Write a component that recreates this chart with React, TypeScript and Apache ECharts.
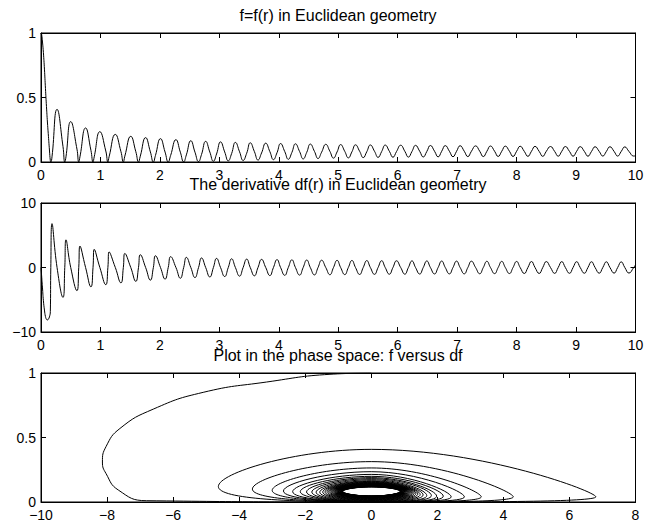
import React, { useEffect, useRef } from "react";
import * as echarts from "echarts";

// ---- tick values ----
const rTicks = [0, 1, 2, 3, 4, 5, 6, 7, 8, 9, 10];
const fTicks = [0, 0.5, 1];
const dfTicks = [-10, 0, 10];
const phaseTicks = [-10, -8, -6, -4, -2, 0, 2, 4, 6, 8];

const titles = [
  "f=f(r) in Euclidean geometry",
  "The derivative df(r) in Euclidean geometry",
  "Plot in the phase space: f versus df",
];

// ---- initial fall from f(0)=1 (r, f, df) ----
const headR = [0, 0.01, 0.025, 0.04, 0.058, 0.075, 0.092, 0.108, 0.122, 0.142, 0.157];
const headF = [1, 0.99, 0.93, 0.85, 0.72, 0.57, 0.43, 0.31, 0.22, 0.093, 0.01];
const headDf = [0, -1.25, -3.17, -5.09, -6.6, -7.61, -8.03, -8.14, -8.03, -7.66, -6.8];

// ---- per oscillation: trough, rising flank (df max), peak, falling flank (df min) ----
const troughR = [0.165, 0.40, 0.635, 0.875, 1.125, 1.385, 1.64, 1.89, 2.14, 2.40, 2.65, 2.90, 3.15, 3.40, 3.65, 3.91, 4.16, 4.41, 4.66, 4.92, 5.17, 5.42, 5.67, 5.92, 6.18, 6.43, 6.68, 6.93, 7.18, 7.44, 7.69, 7.94, 8.19, 8.44, 8.70, 8.95, 9.20, 9.45, 9.70];
const troughF = [0, 0, 0, 0, 0, 0, 0, 0, 0, 0.001, 0.003, 0.006, 0.009, 0.012, 0.015, 0.018, 0.021, 0.024, 0.027, 0.030, 0.032, 0.034, 0.036, 0.037, 0.038, 0.039, 0.040, 0.041, 0.042, 0.042, 0.043, 0.043, 0.044, 0.044, 0.045, 0.045, 0.045, 0.046, 0.046];

const riseR = [0.185, 0.42, 0.655, 0.895, 1.145, 1.41, 1.67, 1.925, 2.18, 2.445, 2.70, 2.953, 3.206, 3.46, 3.71, 3.97, 4.22, 4.47, 4.72, 4.98, 5.23, 5.48, 5.73, 5.98, 6.24, 6.49, 6.74, 6.99, 7.24, 7.50, 7.75, 8.00, 8.25, 8.50, 8.76, 9.01, 9.26, 9.51, 9.76];
const riseF = [0.04, 0.04, 0.04, 0.04, 0.04, 0.045, 0.045, 0.05, 0.05, 0.055, 0.058, 0.062, 0.065, 0.068, 0.07, 0.072, 0.074, 0.075, 0.076, 0.078, 0.079, 0.080, 0.081, 0.081, 0.082, 0.082, 0.083, 0.083, 0.083, 0.083, 0.083, 0.083, 0.083, 0.083, 0.083, 0.083, 0.082, 0.082, 0.082];
const riseDf = [6.8, 4.3, 3.33, 2.82, 2.42, 2.18, 1.98, 1.82, 1.68, 1.57, 1.48, 1.41, 1.35, 1.30, 1.26, 1.22, 1.19, 1.16, 1.13, 1.11, 1.09, 1.07, 1.05, 1.04, 1.02, 1.01, 1.00, 0.99, 0.98, 0.96, 0.95, 0.94, 0.93, 0.92, 0.91, 0.90, 0.89, 0.88, 0.87];

const peakR = [0.27, 0.50, 0.75, 0.99, 1.25, 1.51, 1.76, 2.01, 2.27, 2.52, 2.77, 3.02, 3.27, 3.52, 3.78, 4.03, 4.28, 4.53, 4.79, 5.04, 5.29, 5.54, 5.79, 6.05, 6.30, 6.55, 6.80, 7.05, 7.31, 7.56, 7.81, 8.06, 8.31, 8.57, 8.82, 9.07, 9.32, 9.57, 9.82];
const peakF = [0.408, 0.313, 0.264, 0.235, 0.214, 0.199, 0.189, 0.181, 0.173, 0.165, 0.160, 0.156, 0.152, 0.149, 0.146, 0.143, 0.141, 0.139, 0.137, 0.135, 0.133, 0.132, 0.131, 0.130, 0.129, 0.128, 0.127, 0.126, 0.125, 0.124, 0.123, 0.122, 0.121, 0.120, 0.120, 0.119, 0.118, 0.118, 0.117];

const fallR = [0.37, 0.605, 0.84, 1.09, 1.345, 1.595, 1.84, 2.087, 2.344, 2.59, 2.84, 3.09, 3.34, 3.59, 3.85, 4.10, 4.35, 4.60, 4.86, 5.11, 5.36, 5.61, 5.86, 6.12, 6.37, 6.62, 6.87, 7.12, 7.38, 7.63, 7.88, 8.13, 8.38, 8.64, 8.89, 9.14, 9.39, 9.64, 9.89];
const fallF = [0.12, 0.10, 0.09, 0.085, 0.08, 0.08, 0.078, 0.077, 0.076, 0.076, 0.077, 0.078, 0.079, 0.08, 0.08, 0.081, 0.081, 0.082, 0.082, 0.082, 0.083, 0.083, 0.083, 0.083, 0.083, 0.083, 0.083, 0.083, 0.083, 0.083, 0.083, 0.082, 0.082, 0.082, 0.082, 0.082, 0.082, 0.082, 0.082];
const fallDf = [-4.63, -3.6, -3.0, -2.66, -2.38, -2.15, -1.96, -1.8, -1.67, -1.56, -1.47, -1.40, -1.34, -1.29, -1.25, -1.21, -1.18, -1.15, -1.12, -1.10, -1.08, -1.06, -1.04, -1.03, -1.01, -1.00, -0.99, -0.98, -0.97, -0.95, -0.94, -0.93, -0.92, -0.91, -0.90, -0.89, -0.88, -0.87, -0.86];

// ---- end of the record ----
const tailR = [9.97, 10.0];
const tailF = [0.046, 0.048];
const tailDf = [0, 0.4];

const FONT = '"Liberation Sans", Arial, Helvetica, sans-serif';

function buildSamples(): [number, number, number][] {
  const s: [number, number, number][] = [];
  headR.forEach((r, i) => s.push([r, headF[i], headDf[i]]));
  for (let k = 0; k < peakR.length; k++) {
    s.push([troughR[k], troughF[k], 0]);
    s.push([riseR[k], riseF[k], riseDf[k]]);
    s.push([peakR[k], peakF[k], 0]);
    s.push([fallR[k], fallF[k], fallDf[k]]);
  }
  tailR.forEach((r, i) => s.push([r, tailF[i], tailDf[i]]));
  return s;
}

const fmt = (v: number) => String(v).replace("-", "\u2212");

function axisPair(kind: "x" | "y", gridIndex: number, ticks: number[]) {
  const base = {
    gridIndex,
    type: "value" as const,
    min: ticks[0],
    max: ticks[ticks.length - 1],
    interval: ticks[1] - ticks[0],
    splitLine: { show: false },
    axisLine: { show: true, onZero: false, lineStyle: { color: "#000", width: 1 } },
    axisTick: { show: true, inside: true, length: 5, lineStyle: { color: "#000", width: 1 } },
  };
  const main = {
    ...base,
    position: kind === "x" ? "bottom" : "left",
    axisLabel: {
      show: true,
      color: "#000",
      fontSize: 14,
      fontFamily: FONT,
      margin: kind === "x" ? 6 : 5,
      showMinLabel: true,
      showMaxLabel: true,
      formatter: fmt,
    },
  };
  const mirror = {
    ...base,
    position: kind === "x" ? "top" : "right",
    axisLabel: { show: false },
  };
  return [main, mirror];
}

export default function App() {
  const ref = useRef<HTMLDivElement>(null);
  useEffect(() => {
    if (!ref.current) return;
    const chart = echarts.init(ref.current, undefined, { renderer: "svg" });
    const samples = buildSamples();
    const fData = samples.map((s) => [s[0], s[1]]);
    const dfData = samples.map((s) => [s[0], s[2]]);
    const phaseData = samples.map((s) => [s[2], s[1]]);

    const gridTops = [33, 203, 373];
    const grids = gridTops.map((t) => ({
      left: 41,
      width: 594.5,
      top: t,
      height: 129,
      show: true,
      borderColor: "#000",
      borderWidth: 1,
      backgroundColor: "transparent",
    }));

    const xAxis = [
      ...axisPair("x", 0, rTicks),
      ...axisPair("x", 1, rTicks),
      ...axisPair("x", 2, phaseTicks),
    ];
    const yAxis = [
      ...axisPair("y", 0, fTicks),
      ...axisPair("y", 1, dfTicks),
      ...axisPair("y", 2, fTicks),
    ];

    const lineBase = {
      type: "line" as const,
      symbol: "none",
      showSymbol: false,
      smooth: true,
      clip: true,
      lineStyle: { color: "#000", width: 1 },
      silent: true,
    };

    const titleY = [15, 184.5, 355.5];
    chart.setOption({
      animation: false,
      backgroundColor: "#fff",
      grid: grids,
      xAxis,
      yAxis,
      series: [
        { ...lineBase, xAxisIndex: 0, yAxisIndex: 0, data: fData },
        { ...lineBase, xAxisIndex: 2, yAxisIndex: 2, data: dfData },
        { ...lineBase, xAxisIndex: 4, yAxisIndex: 4, data: phaseData },
      ],
      graphic: titles.map((t, i) => ({
        type: "text",
        x: 338,
        y: titleY[i],
        z: 100,
        style: {
          text: t,
          align: "center",
          verticalAlign: "middle",
          fontSize: 16,
          fontFamily: FONT,
          fill: "#000",
        },
      })),
    });
    return () => chart.dispose();
  }, []);
  return (
    <div
      ref={ref}
      style={{ position: "fixed", left: 0, top: 0, width: 647, height: 529, background: "#fff" }}
    />
  );
}
